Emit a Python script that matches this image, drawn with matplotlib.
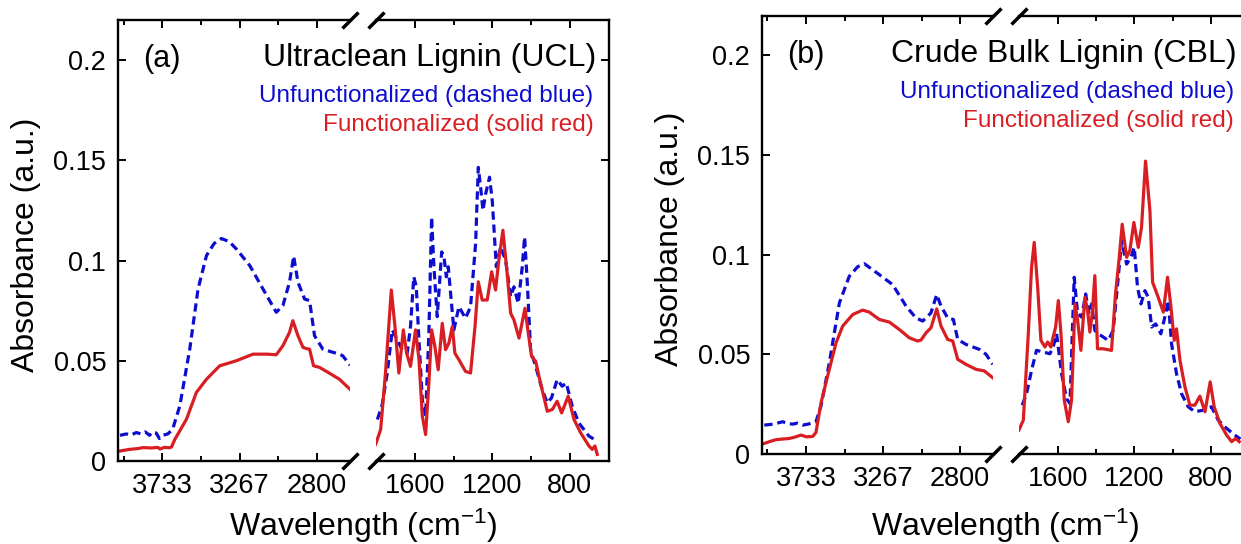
import matplotlib
matplotlib.use("Agg")
import matplotlib.pyplot as plt

plt.rcParams['font.family'] = ['Liberation Sans', 'DejaVu Sans']
plt.rcParams['mathtext.fontset'] = 'custom'
plt.rcParams['mathtext.rm'] = 'Liberation Sans'
plt.rcParams['mathtext.default'] = 'regular'

# ---- data (wavenumber cm-1, absorbance) ----
# (a) UCL, high wavenumber part
a_hi_wn_blue = [3988, 3950, 3920, 3890, 3860, 3835, 3810, 3790, 3770, 3750, 3730, 3700, 3680, 3667,
                3627, 3567, 3517, 3466, 3420, 3376, 3330, 3286, 3205, 3125, 3045, 3005, 2965, 2940,
                2914, 2874, 2844, 2814, 2764, 2714, 2664, 2644, 2600]
a_hi_blue = [0.0128, 0.0135, 0.0130, 0.0142, 0.0135, 0.0145, 0.0128, 0.0145, 0.0140, 0.0112, 0.0128,
             0.0135, 0.0150, 0.0167, 0.0275, 0.0558, 0.0858, 0.1025, 0.1085, 0.1110, 0.1095, 0.1058,
             0.0975, 0.0858, 0.0742, 0.0775, 0.0892, 0.1022, 0.0892, 0.0808, 0.0800, 0.0625, 0.0558,
             0.0545, 0.0533, 0.0525, 0.0478]
a_hi_wn_red = [3988, 3930, 3880, 3848, 3800, 3760, 3747, 3720, 3690, 3677, 3657, 3587, 3527, 3466,
               3386, 3286, 3185, 3100, 3045, 3005, 2965, 2945, 2914, 2884, 2860, 2844, 2820, 2784,
               2724, 2664, 2600]
a_hi_red = [0.0050, 0.0058, 0.0062, 0.0067, 0.0065, 0.0068, 0.0060, 0.0068, 0.0066, 0.0070, 0.0108,
            0.0208, 0.0342, 0.0408, 0.0475, 0.0500, 0.0533, 0.0533, 0.0530, 0.0575, 0.0642, 0.0700,
            0.0625, 0.0567, 0.0560, 0.0558, 0.0475, 0.0467, 0.0438, 0.0408, 0.0358]

# (a) UCL, fingerprint part
a_lo_wn_blue = [1793, 1768, 1742, 1716, 1690, 1665, 1639, 1622, 1605, 1592, 1582, 1561, 1544, 1527,
                1513, 1501, 1484, 1461, 1449, 1437, 1427, 1415, 1398, 1372, 1338, 1312, 1286, 1272,
                1260, 1248, 1234, 1214, 1200, 1179, 1157, 1131, 1105, 1088, 1066, 1045, 1033, 1019,
                1002, 976, 942, 916, 894, 865, 839, 818, 787, 753, 701, 658]
a_lo_blue = [0.0207, 0.0281, 0.0439, 0.0654, 0.0604, 0.0555, 0.0538, 0.0670, 0.0919, 0.0869, 0.0670,
             0.0306, 0.0224, 0.0637, 0.1217, 0.0969, 0.0720, 0.1043, 0.1018, 0.0919, 0.0969, 0.0836,
             0.0654, 0.0770, 0.0712, 0.0770, 0.1084, 0.1465, 0.1366, 0.1250, 0.1333, 0.1416, 0.1300,
             0.0969, 0.1068, 0.1002, 0.0820, 0.0869, 0.0786, 0.0969, 0.1118, 0.0886, 0.0555, 0.0472,
             0.0356, 0.0290, 0.0315, 0.0406, 0.0373, 0.0389, 0.0273, 0.0190, 0.0124, 0.0099]
a_lo_wn_red = [1802, 1776, 1751, 1721, 1702, 1682, 1659, 1642, 1622, 1596, 1578, 1561, 1544, 1527,
               1513, 1496, 1479, 1458, 1441, 1424, 1406, 1393, 1372, 1338, 1312, 1289, 1272, 1252,
               1226, 1203, 1183, 1166, 1145, 1123, 1105, 1088, 1062, 1031, 1014, 997, 976, 951, 916,
               890, 865, 842, 808, 778, 744, 701, 684, 670, 658]
a_lo_red = [0.0083, 0.0157, 0.0439, 0.0853, 0.0670, 0.0439, 0.0654, 0.0538, 0.0472, 0.0654, 0.0505,
            0.0224, 0.0132, 0.0389, 0.0654, 0.0571, 0.0455, 0.0687, 0.0555, 0.0588, 0.0671, 0.0538,
            0.0505, 0.0447, 0.0439, 0.0671, 0.0894, 0.0803, 0.0803, 0.0944, 0.0853, 0.1002, 0.1151,
            0.0935, 0.0737, 0.0704, 0.0613, 0.0762, 0.0637, 0.0522, 0.0497, 0.0389, 0.0248, 0.0257,
            0.0298, 0.0240, 0.0323, 0.0207, 0.0141, 0.0075, 0.0058, 0.0075, 0.0033]

# (b) CBL, high wavenumber part
b_hi_wn_blue = [3986, 3930, 3875, 3840, 3814, 3785, 3754, 3720, 3673, 3642, 3592, 3531, 3471, 3420,
                3380, 3289, 3208, 3127, 3067, 3026, 2976, 2941, 2915, 2875, 2840, 2814, 2764, 2683,
                2642, 2602]
b_hi_blue = [0.0145, 0.0150, 0.0162, 0.0152, 0.0150, 0.0155, 0.0145, 0.0150, 0.0162, 0.0242, 0.0458,
             0.0758, 0.0892, 0.0940, 0.0955, 0.0900, 0.0850, 0.0742, 0.0683, 0.0667, 0.0708, 0.0800,
             0.0742, 0.0683, 0.0675, 0.0575, 0.0550, 0.0525, 0.0500, 0.0450]
b_hi_wn_red = [3996, 3955, 3915, 3875, 3834, 3800, 3764, 3730, 3693, 3673, 3642, 3592, 3551, 3511,
               3450, 3390, 3350, 3289, 3228, 3168, 3107, 3057, 3036, 3006, 2976, 2941, 2915, 2875,
               2844, 2814, 2764, 2703, 2653, 2602]
b_hi_red = [0.0050, 0.0062, 0.0072, 0.0075, 0.0078, 0.0085, 0.0095, 0.0086, 0.0088, 0.0108, 0.0258,
            0.0425, 0.0558, 0.0642, 0.0700, 0.0722, 0.0712, 0.0675, 0.0662, 0.0625, 0.0583, 0.0567,
            0.0572, 0.0608, 0.0633, 0.0728, 0.0642, 0.0575, 0.0567, 0.0475, 0.0450, 0.0425, 0.0417,
            0.0383]

# (b) CBL, fingerprint part
b_lo_wn_blue = [1786, 1763, 1737, 1711, 1676, 1641, 1624, 1606, 1580, 1554, 1536, 1524, 1514, 1496,
                1475, 1454, 1437, 1423, 1406, 1388, 1362, 1336, 1310, 1287, 1266, 1240, 1217, 1200,
                1183, 1165, 1144, 1127, 1109, 1088, 1061, 1040, 1022, 1005, 979, 953, 918, 883, 839,
                796, 761, 717, 674, 645]
b_lo_blue = [0.0245, 0.0303, 0.0420, 0.0520, 0.0512, 0.0503, 0.0537, 0.0603, 0.0403, 0.0278, 0.0253,
             0.0603, 0.0887, 0.0703, 0.0687, 0.0803, 0.0703, 0.0753, 0.0620, 0.0603, 0.0587, 0.0570,
             0.0620, 0.0853, 0.1070, 0.0953, 0.0987, 0.1037, 0.0837, 0.0753, 0.0820, 0.0787, 0.0637,
             0.0653, 0.0603, 0.0687, 0.0770, 0.0553, 0.0403, 0.0303, 0.0237, 0.0212, 0.0220, 0.0237,
             0.0170, 0.0128, 0.0095, 0.0075]
b_lo_wn_red = [1803, 1780, 1754, 1737, 1723, 1705, 1688, 1667, 1653, 1636, 1624, 1611, 1597, 1583,
               1566, 1545, 1528, 1510, 1496, 1479, 1458, 1444, 1432, 1420, 1406, 1392, 1362, 1319,
               1298, 1280, 1263, 1240, 1223, 1202, 1179, 1162, 1141, 1118, 1104, 1075, 1048, 1026,
               1008, 991, 979, 961, 935, 909, 883, 857, 830, 803, 782, 752, 717, 691, 670, 651]
b_lo_red = [0.0120, 0.0170, 0.0603, 0.0937, 0.1062, 0.0837, 0.0570, 0.0537, 0.0562, 0.0537, 0.0587,
            0.0637, 0.0770, 0.0603, 0.0270, 0.0162, 0.0270, 0.0753, 0.0670, 0.0520, 0.0787, 0.0720,
            0.0612, 0.0703, 0.0895, 0.0528, 0.0528, 0.0520, 0.0803, 0.0970, 0.1153, 0.0987, 0.1020,
            0.1162, 0.1037, 0.1137, 0.1470, 0.1220, 0.0862, 0.0787, 0.0712, 0.0887, 0.0737, 0.0570,
            0.0628, 0.0470, 0.0337, 0.0245, 0.0245, 0.0290, 0.0212, 0.0362, 0.0237, 0.0153, 0.0095,
            0.0062, 0.0078, 0.0062]

titles = ['Ultraclean Lignin (UCL)', 'Crude Bulk Lignin (CBL)']
tags = ['(a)', '(b)']
legend_blue = 'Unfunctionalized (dashed blue)'
legend_red = 'Functionalized (solid red)'
yticks = [0, 0.05, 0.1, 0.15, 0.2]
ytick_labels = ['0', '0.05', '0.1', '0.15', '0.2']
hi_ticks = [3733.33, 3266.67, 2800]
hi_labels = ['3733', '3267', '2800']
hi_minor = [3966.67, 3500, 3033.33]
lo_ticks = [1600, 1200, 800]
lo_labels = ['1600', '1200', '800']
lo_minor = [1400, 1000]

BLUE = '#0d0dcf'
RED = '#d81e23'
W, H = 1241, 544

fig = plt.figure(figsize=(W / 100, H / 100), dpi=100)


def box(x0, x1, top, bottom):
    return [x0 / W, 1 - bottom / H, (x1 - x0) / W, (bottom - top) / H]


def ftext(x, y, s, **kw):
    fig.text(x / W, 1 - y / H, s, **kw)


def style(ax):
    ax.set_ylim(0, 0.22)
    ax.set_yticks(yticks)
    ax.tick_params(which='both', direction='in', top=True, bottom=True, width=1.4,
                   labelsize=19.5, pad=8.5)
    ax.tick_params(which='major', length=6)
    ax.tick_params(which='minor', length=3.3)
    for s in ax.spines.values():
        s.set_linewidth(1.7)


def panel(k, lx0, lx1, rx0, rx1, top, bottom, hi, lo):
    axl = fig.add_axes(box(lx0, lx1, top, bottom))
    axr = fig.add_axes(box(rx0, rx1, top, bottom))
    dash = dict(color=BLUE, lw=2.3, ls=(0, (2.6, 1.5)))
    solid = dict(color=RED, lw=2.3)
    axl.plot(hi[0], hi[1], **dash)
    axl.plot(hi[2], hi[3], **solid)
    axr.plot(lo[0], lo[1], **dash)
    axr.plot(lo[2], lo[3], **solid)

    axl.set_xlim(4000, 2600)
    axl.set_xticks(hi_ticks)
    axl.set_xticklabels(hi_labels)
    axl.set_xticks(hi_minor, minor=True)
    axr.set_xlim(1800, 600)
    axr.set_xticks(lo_ticks)
    axr.set_xticklabels(lo_labels)
    axr.set_xticks(lo_minor, minor=True)
    for ax in (axl, axr):
        style(ax)
    axl.set_yticklabels(ytick_labels)
    axl.tick_params(axis='y', left=True, right=False)
    axr.tick_params(axis='y', left=False, right=True, labelleft=False)
    axl.spines['right'].set_visible(False)
    axr.spines['left'].set_visible(False)

    # axis break marks
    kw = dict(marker=[(-1, -1), (1, 1)], markersize=11.5, linestyle='none',
              color='k', mec='k', mew=2.5, clip_on=False)
    axl.plot([1, 1], [0, 1], transform=axl.transAxes, **kw)
    axr.plot([0, 0], [0, 1], transform=axr.transAxes, **kw)

    ftext(lx0 + 25, top + 39, tags[k], fontsize=22, ha='left', va='center')
    ftext(rx1 - 12, top + 38, titles[k], fontsize=23, ha='right', va='center')
    ftext(rx1 - 15, top + 76, legend_blue, fontsize=17.5, color=BLUE, ha='right', va='center')
    ftext(rx1 - 15, top + 105, legend_red, fontsize=17.5, color=RED, ha='right', va='center')
    ftext(lx0 - 92, (top + bottom) / 2 + 4, 'Absorbance (a.u.)', fontsize=23,
          rotation=90, ha='center', va='center')
    ftext((lx0 + rx1) / 2, 536, 'Wavelength (cm$^{-1}$)', fontsize=23,
          ha='center', va='baseline')


panel(0, 118, 350, 376, 608.5, 20, 461,
      (a_hi_wn_blue, a_hi_blue, a_hi_wn_red, a_hi_red),
      (a_lo_wn_blue, a_lo_blue, a_lo_wn_red, a_lo_red))
panel(1, 762, 993, 1019.5, 1249, 15.6, 454,
      (b_hi_wn_blue, b_hi_blue, b_hi_wn_red, b_hi_red),
      (b_lo_wn_blue, b_lo_blue, b_lo_wn_red, b_lo_red))

fig.savefig('out.png', dpi=100)
